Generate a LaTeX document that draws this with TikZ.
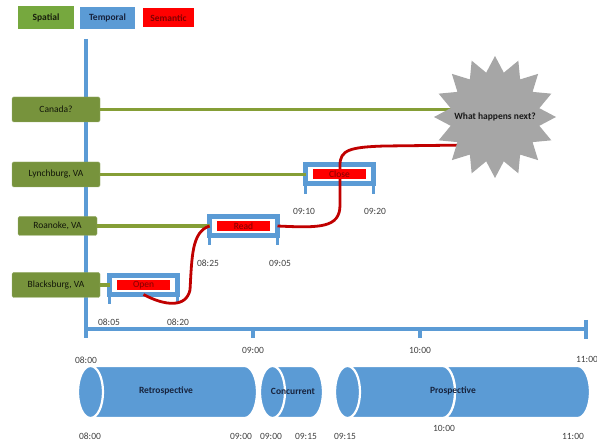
\documentclass[tikz,border=0pt]{standalone}
\usepackage{fontspec}
\setmainfont{Carlito}
\usetikzlibrary{shapes.geometric}

\definecolor{tblue}{RGB}{91,155,213}
\definecolor{sgreen}{RGB}{119,147,60}
\definecolor{sgreenlight}{RGB}{118,168,62}
\definecolor{sred}{RGB}{255,0,0}
\definecolor{curvered}{RGB}{192,0,0}
\definecolor{darkred}{RGB}{128,0,0}
\definecolor{navy}{RGB}{23,35,61}
\definecolor{stargray}{RGB}{166,166,166}

\newcommand{\diagfont}{\fontsize{9.5}{11.5}\selectfont}
% cylinder from left end #1 to right end #2
\newcommand{\timecyl}[2]{%
  \filldraw[fill=tblue, draw=white, line width=2.2pt]
    (#1+12.5,366) -- (#2-12.5,366)
    arc[start angle=90, end angle=-90, x radius=12.5pt, y radius=26pt]
    -- (#1+12.5,418)
    arc[start angle=270, end angle=90, x radius=12.5pt, y radius=26pt] -- cycle;
  \filldraw[fill=tblue, draw=white, line width=2.2pt]
    (#1+12.5,392) ellipse[x radius=12.5pt, y radius=26pt];
}

\begin{document}
\begin{tikzpicture}[x=1pt, y=-1pt, font=\diagfont,
  legend/.style={inner sep=0, font=\diagfont\bfseries},
  place/.style={fill=sgreen, draw=sgreen!75!white, rounded corners=1.5pt,
    minimum width=88pt, minimum height=25pt, inner sep=0, text=black!85!sgreen},
  frame/.style={draw=tblue, line width=5pt, fill=white, minimum width=68pt,
    minimum height=19pt, inner sep=0, outer sep=0},
  sem/.style={fill=sred, minimum width=53pt, minimum height=10pt, inner sep=0,
    text=darkred},
  leg/.style={draw=tblue, line width=3.5pt},
  axis/.style={draw=tblue, line width=3.5pt},
  sline/.style={draw=sgreen!90!yellow, line width=3.5pt},
  semline/.style={draw=curvered, line width=2.8pt},
  tlab/.style={text=black!75, inner sep=1pt},
  cyllab/.style={text=navy, font=\diagfont\bfseries}]
  \useasboundingbox (0,0) rectangle (597,443);

  % Legend
  \node[legend, fill=sgreenlight, minimum width=56pt, minimum height=23pt,
    text=black!80!sgreen] (lspatial) at (46,17.5) {Spatial};
  \node[legend, fill=tblue, minimum width=55pt, minimum height=22pt,
    text=navy] (ltemporal) at (107.5,18) {Temporal};
  \node[legend, fill=sred, minimum width=51pt, minimum height=19pt,
    text=darkred] (lsemantic) at (168.5,18) {Semantic};

  % Time axis
  \draw[axis] (86,39) -- (86,338);
  \draw[axis] (86,329) -- (586,329);
  \draw[axis] (253,329) -- (253,338);
  \draw[axis] (420,329) -- (420,338);
  \draw[axis] (586,320) -- (586,339);
  \node[tlab] (a9) at (253,350) {09:00};
  \node[tlab] (a10) at (420,350) {10:00};
  \node[tlab] (a8) at (86,360) {08:00};
  \node[tlab] (a11) at (587,359) {11:00};

  % Places
  \node[place] (canada) at (56,109.5) {Canada?};
  \node[place] (lynch) at (56,174.5) {Lynchburg, VA};
  \node[place, minimum width=79pt, minimum height=19pt] (roanoke) at (57.5,226) {Roanoke, VA};
  \node[place] (blacks) at (56,285) {Blacksburg, VA};

  % Activities
  \node[frame] (open) at (143.5,285) {};
  \node[frame] (read) at (243.5,226) {};
  \node[frame] (close) at (339.5,174.5) {};
  \foreach \b in {open,read,close} {
    \draw[leg] (\b.south west) -- ++(0,10);
    \draw[leg] (\b.south east) -- ++(0,10);
  }
  \node[tlab] (t1) at (109,322) {08:05};
  \node[tlab] (t2) at (178,322) {08:20};
  \node[tlab] (t3) at (208,263) {08:25};
  \node[tlab] (t4) at (280,263) {09:05};
  \node[tlab] (t5) at (304,211) {09:10};
  \node[tlab] (t6) at (375,211) {09:20};

  % Where and what
  \coordinate (nextc) at (495,117);
  \coordinate (nextin) at (470,145);
  \draw[sline] (canada.east) -- (canada.east -| nextc);
  \draw[sline] (lynch.east) -- (close.west);
  \draw[sline] (roanoke.east) -- (read.west);
  \draw[sline] (blacks.east) -- (open.west);
  \draw[semline] (open.south) .. controls (165,306) and (186,308) .. (190,290)
    .. controls (192,255) and (192,232) .. (read.west);
  \draw[semline] (read.east) .. controls (320,228) and (340,228) .. (340,205)
    -- (340,165) .. controls (340,150) and (350,147) .. (385,146) -- (nextin);
  \node[sem] (openlab) at (open) {Open};
  \node[sem] (readlab) at (read) {Read};
  \node[sem] (closelab) at (close) {Close};

  % Unknown future
  \node[star, star points=16, star point ratio=1.35, minimum size=122pt,
    fill=stargray, inner sep=0] (next) at (nextc) {};
  \node[font=\diagfont\bfseries, text=black!90] (nexttext) at (next) {What happens next?};

  % Retrospective / concurrent / prospective
  \timecyl{78}{257}
  \timecyl{260}{323}
  \timecyl{430}{590}
  \timecyl{335}{455}
  \node[cyllab] (retro) at (166,391) {Retrospective};
  \node[cyllab] (concur) at (293,391) {Concurrent};
  \node[cyllab] (prosp) at (453,391) {Prospective};
  \node[tlab] (b1) at (90,436) {08:00};
  \node[tlab] (b2) at (241,436) {09:00};
  \node[tlab] (b3) at (271,436) {09:00};
  \node[tlab] (b4) at (306,436) {09:15};
  \node[tlab] (b5) at (345,436) {09:15};
  \node[tlab] (b6) at (444,428) {10:00};
  \node[tlab] (b7) at (573,436) {11:00};
\end{tikzpicture}
\end{document}
